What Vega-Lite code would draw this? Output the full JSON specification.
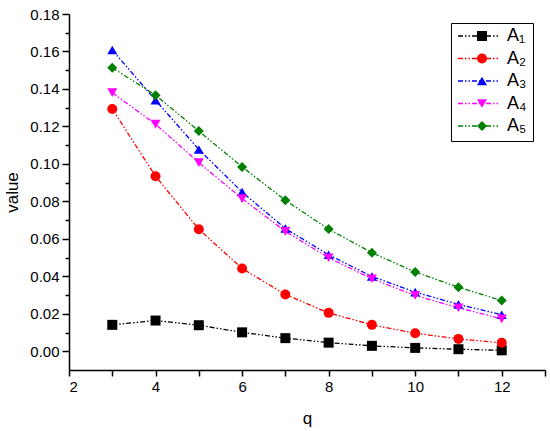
{
  "$schema": "https://vega.github.io/schema/vega-lite/v6.json",
  "autosize": "none",
  "padding": {"left": 69, "top": 14, "right": 5, "bottom": 61},
  "width": 476,
  "height": 356,
  "background": "white",
  "data": {
    "values": [
      {"q": 3, "series": "A₁", "value": 0.0141},
      {"q": 4, "series": "A₁", "value": 0.0164},
      {"q": 5, "series": "A₁", "value": 0.0139},
      {"q": 6, "series": "A₁", "value": 0.0101},
      {"q": 7, "series": "A₁", "value": 0.0070},
      {"q": 8, "series": "A₁", "value": 0.0046},
      {"q": 9, "series": "A₁", "value": 0.0029},
      {"q": 10, "series": "A₁", "value": 0.0018},
      {"q": 11, "series": "A₁", "value": 0.0011},
      {"q": 12, "series": "A₁", "value": 0.0005},
      {"q": 3, "series": "A₂", "value": 0.1293},
      {"q": 4, "series": "A₂", "value": 0.0934},
      {"q": 5, "series": "A₂", "value": 0.0651},
      {"q": 6, "series": "A₂", "value": 0.0442},
      {"q": 7, "series": "A₂", "value": 0.0303},
      {"q": 8, "series": "A₂", "value": 0.0205},
      {"q": 9, "series": "A₂", "value": 0.0141},
      {"q": 10, "series": "A₂", "value": 0.0096},
      {"q": 11, "series": "A₂", "value": 0.0066},
      {"q": 12, "series": "A₂", "value": 0.0045},
      {"q": 3, "series": "A₃", "value": 0.1608},
      {"q": 4, "series": "A₃", "value": 0.1340},
      {"q": 5, "series": "A₃", "value": 0.1077},
      {"q": 6, "series": "A₃", "value": 0.0850},
      {"q": 7, "series": "A₃", "value": 0.0655},
      {"q": 8, "series": "A₃", "value": 0.0515},
      {"q": 9, "series": "A₃", "value": 0.0399},
      {"q": 10, "series": "A₃", "value": 0.0316},
      {"q": 11, "series": "A₃", "value": 0.0250},
      {"q": 12, "series": "A₃", "value": 0.0195},
      {"q": 3, "series": "A₄", "value": 0.1380},
      {"q": 4, "series": "A₄", "value": 0.1212},
      {"q": 5, "series": "A₄", "value": 0.1007},
      {"q": 6, "series": "A₄", "value": 0.0815},
      {"q": 7, "series": "A₄", "value": 0.0640},
      {"q": 8, "series": "A₄", "value": 0.0499},
      {"q": 9, "series": "A₄", "value": 0.0387},
      {"q": 10, "series": "A₄", "value": 0.0298},
      {"q": 11, "series": "A₄", "value": 0.0232},
      {"q": 12, "series": "A₄", "value": 0.0173},
      {"q": 3, "series": "A₅", "value": 0.1513},
      {"q": 4, "series": "A₅", "value": 0.1367},
      {"q": 5, "series": "A₅", "value": 0.1175},
      {"q": 6, "series": "A₅", "value": 0.0984},
      {"q": 7, "series": "A₅", "value": 0.0806},
      {"q": 8, "series": "A₅", "value": 0.0652},
      {"q": 9, "series": "A₅", "value": 0.0526},
      {"q": 10, "series": "A₅", "value": 0.0423},
      {"q": 11, "series": "A₅", "value": 0.0342},
      {"q": 12, "series": "A₅", "value": 0.0271}
    ]
  },
  "encoding": {
    "x": {
      "field": "q",
      "type": "quantitative",
      "scale": {"domain": [2, 13], "nice": false, "zero": false},
      "axis": {
        "title": "q",
        "values": [2, 3, 4, 5, 6, 7, 8, 9, 10, 11, 12, 13],
        "labelExpr": "datum.value % 2 == 0 ? datum.label : ''",
        "tickSize": 6,
        "titlePadding": 16
      }
    },
    "y": {
      "field": "value",
      "type": "quantitative",
      "scale": {"domain": [-0.01, 0.18], "nice": false, "zero": false},
      "axis": {
        "title": "value",
        "values": [0, 0.01, 0.02, 0.03, 0.04, 0.05, 0.06, 0.07, 0.08, 0.09, 0.1, 0.11, 0.12, 0.13, 0.14, 0.15, 0.16, 0.17, 0.18],
        "labelExpr": "round(datum.value * 100) % 2 == 0 ? format(datum.value, '.2f') : ''",
        "tickSize": {"condition": {"test": "round(datum.value * 100) % 2 == 0", "value": 7}, "value": 4},
        "titlePadding": 8
      }
    }
  },
  "layer": [
    {
      "mark": {"type": "line", "strokeWidth": 1.3, "strokeDash": [5, 2, 1.5, 2, 1.5, 2]},
      "encoding": {
        "color": {
          "field": "series",
          "type": "nominal",
          "scale": {
            "domain": ["A₁", "A₂", "A₃", "A₄", "A₅"],
            "range": ["#000000", "#ff0000", "#0000ff", "#ff00ff", "#008000"]
          },
          "legend": {
            "orient": "none",
            "legendX": 382,
            "legendY": 9,
            "title": null,
            "symbolType": "stroke",
            "symbolSize": 1764,
            "symbolStrokeWidth": 1.3,
            "symbolDash": [5, 2, 1.5, 2, 1.5, 2],
            "strokeColor": "black",
            "fillColor": "white",
            "padding": 6,
            "clipHeight": 14,
            "rowPadding": 4.5,
            "labelOffset": 6,
            "labelFontSize": 18,
            "labelColor": "black",
            "labelFont": "Liberation Sans"
          }
        }
      }
    },
    {
      "mark": {"type": "point", "filled": true, "size": 100, "opacity": 1, "strokeWidth": 0},
      "encoding": {
        "fill": {
          "field": "series",
          "type": "nominal",
          "scale": {"range": ["#000000", "#ff0000", "#0000ff", "#ff00ff", "#008000"]},
          "legend": {
            "orient": "none",
            "legendX": 382,
            "legendY": 9,
            "title": null,
            "symbolSize": 100,
            "symbolStrokeWidth": 0,
            "symbolOpacity": 1,
            "symbolOffset": 16,
            "padding": 6,
            "clipHeight": 14,
            "rowPadding": 4.5,
            "labelFontSize": 18,
            "labelExpr": "''"
          }
        },
        "shape": {
          "field": "series",
          "type": "nominal",
          "scale": {"range": ["square", "circle", "triangle-up", "triangle-down", "diamond"]},
          "legend": {
            "orient": "none",
            "legendX": 382,
            "legendY": 9,
            "title": null,
            "symbolSize": 100,
            "symbolStrokeWidth": 0,
            "symbolOpacity": 1,
            "symbolOffset": 16,
            "padding": 6,
            "clipHeight": 14,
            "rowPadding": 4.5,
            "labelFontSize": 18,
            "labelExpr": "''"
          }
        }
      }
    }
  ],
  "config": {
    "view": {"stroke": null},
    "axis": {
      "grid": false,
      "domainColor": "black",
      "domainWidth": 1.5,
      "tickColor": "black",
      "tickWidth": 1.5,
      "labelColor": "black",
      "labelFont": "Liberation Sans",
      "labelFontSize": 15,
      "labelPadding": 3,
      "titleFont": "Liberation Sans",
      "titleFontSize": 17,
      "titleFontWeight": "normal",
      "titleColor": "black"
    }
  }
}
